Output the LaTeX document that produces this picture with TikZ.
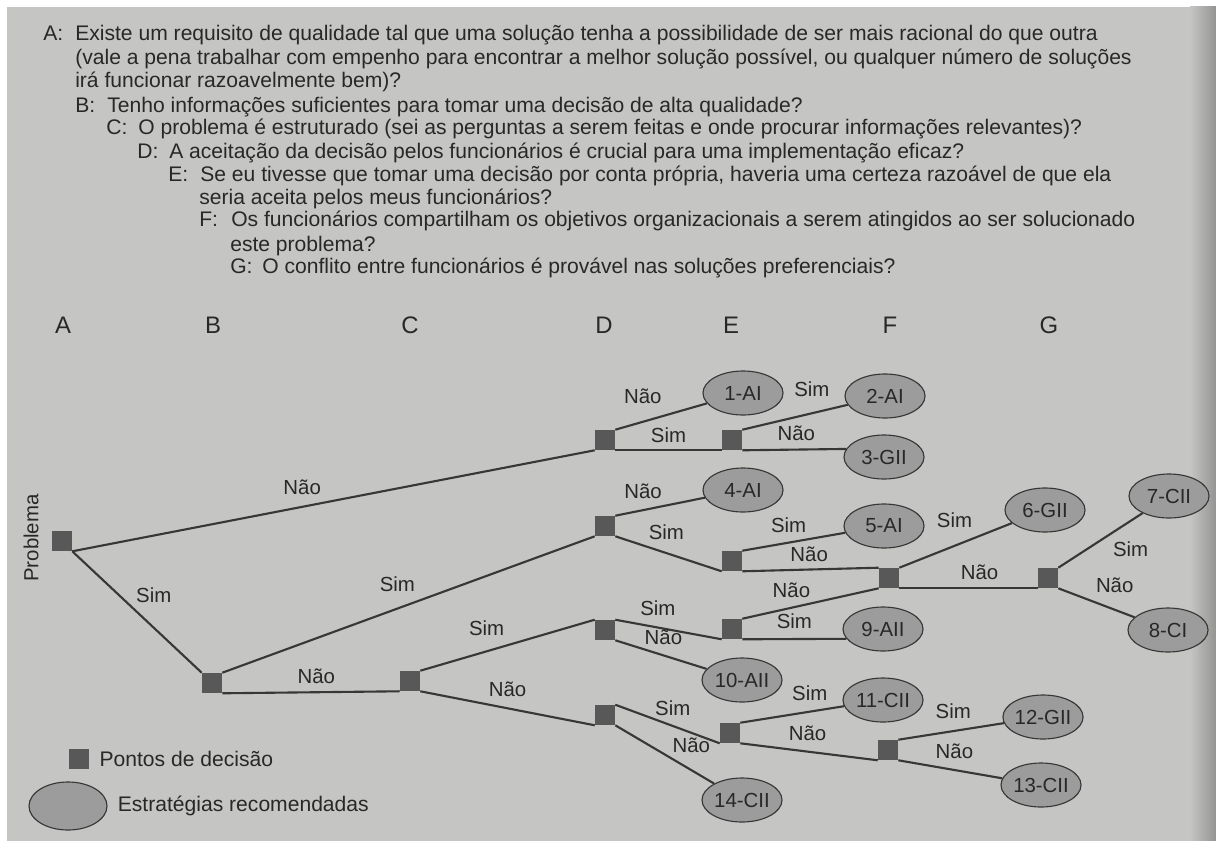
\documentclass[tikz,border=0pt]{standalone}
\usepackage{fontspec}
\setmainfont{Liberation Sans}
\usepackage{xcolor}
\definecolor{PaperGray}{RGB}{197,197,195}
\definecolor{InkGray}{RGB}{40,40,40}
\definecolor{PointGray}{RGB}{88,88,88}
\definecolor{StratGray}{RGB}{156,156,156}
\definecolor{EdgeGray}{RGB}{55,55,55}
\usetikzlibrary{shapes.geometric, positioning}

\begin{document}
\begin{tikzpicture}[
        x=0.025cm, y=-0.025cm,
        dpoint/.style={fill=PointGray, rectangle,
                    minimum size=0.5cm, inner sep=0pt},
        strat/.style={draw=EdgeGray, ellipse, fill=StratGray, line width=0.8pt,
                    minimum width=2cm, minimum height=1.1cm, inner sep=0pt,
                    font=\fontsize{14.5}{14.5}\selectfont, text=InkGray},
        lbl/.style={font=\fontsize{14.5}{14.5}\selectfont, text=InkGray, inner sep=2pt},
        qtext/.style={anchor=base west, inner sep=0pt, text=InkGray,
                    font=\fontsize{15}{15}\selectfont},
        colhead/.style={font=\fontsize{17}{17}\selectfont, text=InkGray},
        conn/.style={EdgeGray, line width=1.5pt}
    ]
        \useasboundingbox (0,0) rectangle (1216,841);
        % paper
        \fill[white] (0,0) rectangle (1216,841);
        \fill[PaperGray] (7,7) rectangle (1216,841);
        \shade[left color=PaperGray, right color=PaperGray!75!black] (1190,7) rectangle (1216,841);

        % questions
        \node[qtext] (qa1) at (43,41) {\makebox[0.8cm][l]{A:}Existe um requisito de qualidade tal que uma solução tenha a possibilidade de ser mais racional do que outra};
        \node[qtext] (qa2) at (75,65) {(vale a pena trabalhar com empenho para encontrar a melhor solução possível, ou qualquer número de soluções};
        \node[qtext] (qa3) at (75,88) {irá funcionar razoavelmente bem)?};
        \node[qtext] (qb) at (75,112) {\makebox[0.8cm][l]{B:}Tenho informações suficientes para tomar uma decisão de alta qualidade?};
        \node[qtext] (qc) at (106,134.5) {\makebox[0.8cm][l]{C:}O problema é estruturado (sei as perguntas a serem feitas e onde procurar informações relevantes)?};
        \node[qtext] (qd) at (137,158.5) {\makebox[0.8cm][l]{D:}A aceitação da decisão pelos funcionários é crucial para uma implementação eficaz?};
        \node[qtext] (qe1) at (168,181.5) {\makebox[0.8cm][l]{E:}Se eu tivesse que tomar uma decisão por conta própria, haveria uma certeza razoável de que ela};
        \node[qtext] (qe2) at (199,204.5) {seria aceita pelos meus funcionários?};
        \node[qtext] (qf1) at (199,226.5) {\makebox[0.8cm][l]{F:}Os funcionários compartilham os objetivos organizacionais a serem atingidos ao ser solucionado};
        \node[qtext] (qf2) at (230,251) {este problema?};
        \node[qtext] (qg) at (230,273.5) {\makebox[0.8cm][l]{G:}O conflito entre funcionários é provável nas soluções preferenciais?};

        % column heads
        \node[colhead] (colA) at (63,325) {A};
        \node[colhead] (colB) at (213,325) {B};
        \node[colhead] (colC) at (410,325) {C};
        \node[colhead] (colD) at (604,325) {D};
        \node[colhead] (colE) at (731,325) {E};
        \node[colhead] (colF) at (890,325) {F};
        \node[colhead] (colG) at (1049,325) {G};

        \node[lbl, rotate=90] (prob) at (31,538) {Problema};

        % decision points
        \node[dpoint] (a) at (62,541) {};
        \node[dpoint] (b) at (212,683) {};
        \node[dpoint] (c) at (410,681) {};
        \node[dpoint] (d1) at (605,440) {};
        \node[dpoint] (e1) at (732,440) {};
        \node[dpoint] (d2) at (605,526) {};
        \node[dpoint] (e2) at (732,561) {};
        \node[dpoint] (f1) at (889,578) {};
        \node[dpoint] (g) at (1048,578) {};
        \node[dpoint] (d3) at (605,630) {};
        \node[dpoint] (e3) at (732,629) {};
        \node[dpoint] (d4) at (605,715) {};
        \node[dpoint] (e4) at (730,733) {};
        \node[dpoint] (f2) at (888,750) {};

        % strategies
        \node[strat] (s1) at (743,393) {1-AI};
        \node[strat] (s2) at (885,396) {2-AI};
        \node[strat] (s3) at (884,457) {3-GII};
        \node[strat] (s4) at (743,490) {4-AI};
        \node[strat] (s5) at (884,526) {5-AI};
        \node[strat] (s6) at (1045,510) {6-GII};
        \node[strat] (s7) at (1169,496) {7-CII};
        \node[strat] (s8) at (1168,630) {8-CI};
        \node[strat] (s9) at (883,629) {9-AII};
        \node[strat] (s10) at (742,680) {10-AII};
        \node[strat] (s11) at (883,700) {11-CII};
        \node[strat] (s12) at (1043,717) {12-GII};
        \node[strat] (s13) at (1041,785) {13-CII};
        \node[strat] (s14) at (742,800) {14-CII};

        % branches
        \draw[conn] (a.south east) -- node[lbl, pos=0.44, above=5.8pt] {Não} (d1.south west);
        \draw[conn] (a.south east) -- node[lbl, pos=0.36, right=9.6pt] {Sim} (b.north west);
        \draw[conn] (b.north east) -- node[lbl, pos=0.47, above=9.3pt] {Sim} (d2.south west);
        \draw[conn] (b.south east) -- node[lbl, pos=0.53, above=3pt] {Não} (c.south west);
        \draw[conn] (c.north east) -- node[lbl, pos=0.38, above=8.3pt] {Sim} (d3.north west);
        \draw[conn] (c.south east) -- node[lbl, pos=0.5, above=5.8pt] {Não} (d4.south west);

        \draw[conn] (d1.north east) -- node[lbl, pos=0.3, above=10pt] {Não} (s1);
        \draw[conn] (d1.south east) -- node[lbl, pos=0.5, above=3pt] {Sim} (e1.south west);
        \draw[conn] (e1.north east) -- node[lbl, pos=0.66, above=9.4pt] {Sim} (s2);
        \draw[conn] (e1.south east) -- node[lbl, pos=0.52, above=3.7pt] {Não} (s3.168);

        \draw[conn] (d2.north east) -- node[lbl, pos=0.31, above=5.3pt] {Não} (s4);
        \draw[conn] (d2.south east) -- node[lbl, pos=0.48, above=7pt] {Sim} (e2.south west);
        \draw[conn] (e2.north east) -- node[lbl, pos=0.45, above=4.2pt] {Sim} (s5);
        \draw[conn] (e2.south east) -- node[lbl, pos=0.49, above=2.6pt] {Não} (f1.north west);

        \draw[conn] (f1.north east) -- node[lbl, pos=0.49, above=9.9pt] {Sim} (s6);
        \draw[conn] (f1.south east) -- node[lbl, pos=0.58, above=3.7pt] {Não} (g.south west);
        \draw[conn] (g.north east) -- node[lbl, pos=0.58, below right=2pt] {Sim} (s7);
        \draw[conn] (g.south east) -- node[lbl, pos=0.74, above=9.2pt] {Não} (s8);

        \draw[conn] (d3.north east) -- node[lbl, pos=0.4, above=5.5pt] {Sim} (e3.south west);
        \draw[conn] (d3.south east) -- node[lbl, pos=0.28, above right] {Não} (s10);
        \draw[conn] (e3.north east) -- node[lbl, pos=0.36, above=4.3pt] {Não} (f1.south west);
        \draw[conn] (e3.south east) -- node[lbl, pos=0.5, above=4.4pt] {Sim} (s9.195);

        \draw[conn] (d4.north east) -- node[lbl, pos=0.55, above=4.4pt] {Sim} (e4.south west);
        \draw[conn] (d4.south east) -- node[lbl, pos=0.54, above right] {Não} (s14);
        \draw[conn] (e4.north east) -- node[lbl, pos=0.67, above=4.9pt] {Sim} (s11);
        \draw[conn] (e4.south east) -- node[lbl, pos=0.49, above=4.7pt] {Não} (f2.south west);
        \draw[conn] (f2.north east) -- node[lbl, pos=0.52, above=6pt] {Sim} (s12);
        \draw[conn] (f2.south east) -- node[lbl, pos=0.54, above=5.1pt] {Não} (s13);

        % legend
        \node[dpoint] (keysq) at (79,759) {};
        \node[lbl, right=0.18cm of keysq, font=\fontsize{15}{15}\selectfont] (keysqtxt) {Pontos de decisão};
        \node[strat, minimum width=1.95cm, minimum height=1.2cm] (keyell) at (68,806) {};
        \node[lbl, right=0.18cm of keyell, font=\fontsize{15}{15}\selectfont] (keyelltxt) {Estratégias recomendadas};
    \end{tikzpicture}
\end{document}
